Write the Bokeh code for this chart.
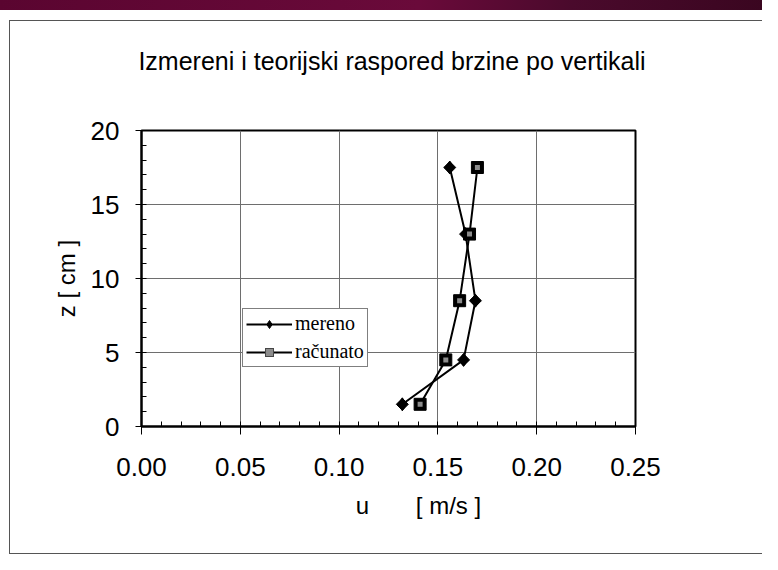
import math
from bokeh.plotting import figure
from bokeh.models import (Range1d, SingleIntervalTicker, PrintfTickFormatter,
                          Legend, LegendItem, LinearAxis, FixedTicker)
from bokeh.embed import file_html
from bokeh.resources import INLINE

# ---- data ----
title_text = "Izmereni i teorijski raspored brzine po vertikali"
z_cm = [1.5, 4.5, 8.5, 13.0, 17.5]
u_mereno = [0.132, 0.163, 0.169, 0.164, 0.156]
u_racunato = [0.141, 0.154, 0.161, 0.166, 0.170]
series_names = ["mereno", "računato"]
x_label_var = "u"
x_label_unit = "[ m/s ]"
y_label = "z [ cm ]"

SANS = "Liberation Sans"
SERIF = "Liberation Serif"
NB = "\u00a0"

page_css = {
    "background-color": "white",
    "background-image": ("linear-gradient(#555,#555), linear-gradient(#555,#555), "
                         "linear-gradient(#555,#555), "
                         "linear-gradient(100deg, #5a0530 0%, #6a0a3a 55%, #4a0a2c 75%, #3a0620 100%)"),
    "background-size": "1px 534px, 760px 1px, 760px 1px, 100% 10px",
    "background-position": "9px 20px, 9px 20px, 9px 553px, 0px 0px",
    "background-repeat": "no-repeat",
}

p = figure(width=762, height=554, output_backend="svg", toolbar_location=None,
           x_range=Range1d(0, 0.25), y_range=Range1d(0, 20),
           min_border_left=141, min_border_right=127,
           min_border_top=130, min_border_bottom=128,
           background_fill_color="white", border_fill_color=None,
           styles=page_css)

# frame
p.outline_line_color = "black"
p.outline_line_width = 2

# main axes (taken before the title axis is added)
xa = p.below[0]
ya = p.left[0]
xa.ticker = SingleIntervalTicker(interval=0.05, num_minor_ticks=5)
ya.ticker = SingleIntervalTicker(interval=5, num_minor_ticks=5)
xa.formatter = PrintfTickFormatter(format="%.2f")
for ax in (xa, ya):
    ax.axis_line_color = "black"
    ax.axis_line_width = 2
    ax.major_tick_line_color = "black"
    ax.major_tick_line_width = 1
    ax.minor_tick_line_color = "black"
    ax.minor_tick_line_width = 1
    ax.major_tick_in = 0
    ax.minor_tick_out = 0
    ax.minor_tick_in = 5
    ax.major_label_text_font = SANS
    ax.major_label_text_font_size = "26px"
    ax.major_label_text_color = "black"
    ax.axis_label_text_font = SANS
    ax.axis_label_text_font_size = "24px"
    ax.axis_label_text_font_style = "normal"
    ax.axis_label_text_color = "black"
xa.major_tick_out = 8
ya.major_tick_out = 6
xa.major_label_standoff = 23
ya.major_label_standoff = 16

ya.axis_label = y_label
ya.axis_label_standoff = 8
# x axis title: "u" and unit spaced apart as in the original (non-breaking spaces)
xa.axis_label = NB * 9 + x_label_var + NB * 7 + x_label_unit
xa.axis_label_standoff = 13

# chart title, drawn as the label of a bare axis above the frame
title_axis = LinearAxis(ticker=FixedTicker(ticks=[]),
                        axis_line_color=None, major_tick_line_color=None,
                        minor_tick_line_color=None, major_tick_out=0, major_tick_in=0,
                        minor_tick_out=0, minor_tick_in=0, major_label_standoff=0,
                        major_label_text_font_size="0px",
                        axis_label=NB + title_text, axis_label_standoff=56,
                        axis_label_text_font=SANS, axis_label_text_font_size="25px",
                        axis_label_text_font_style="normal",
                        axis_label_text_color="black")
p.add_layout(title_axis, "above")

# grid
p.xgrid.grid_line_color = "#6e6e6e"
p.ygrid.grid_line_color = "#6e6e6e"
p.xgrid.grid_line_width = 1
p.ygrid.grid_line_width = 1

# series
l1 = p.line(u_mereno, z_cm, line_color="black", line_width=2)
l2 = p.line(u_racunato, z_cm, line_color="black", line_width=2)
m1a = p.scatter(u_mereno, z_cm, marker="diamond", size=13,
                fill_color="black", line_color="black")
m1 = p.scatter(u_mereno, z_cm, marker="square", size=8.5, angle=math.pi / 4,
               fill_color="black", line_color="black")
m2 = p.scatter(u_racunato, z_cm, marker="square", size=12,
               fill_color="black", line_color="black")
m2b = p.scatter(u_racunato, z_cm, marker="square", size=5,
                fill_color="#8c8c8c", line_color=None)

legend = Legend(items=[LegendItem(label=series_names[0], renderers=[l1, m1a]),
                       LegendItem(label=series_names[1], renderers=[l2, m2, m2b])],
                location=(101, 59), orientation="vertical",
                glyph_width=46, glyph_height=20, label_height=20,
                label_standoff=3, spacing=5, padding=3, margin=0,
                label_text_font=SERIF, label_text_font_size="20px",
                label_text_color="black",
                border_line_color="black", border_line_width=1,
                background_fill_color="white", background_fill_alpha=1)
p.add_layout(legend, "center")

open("out.html", "w").write(file_html(p, INLINE))
